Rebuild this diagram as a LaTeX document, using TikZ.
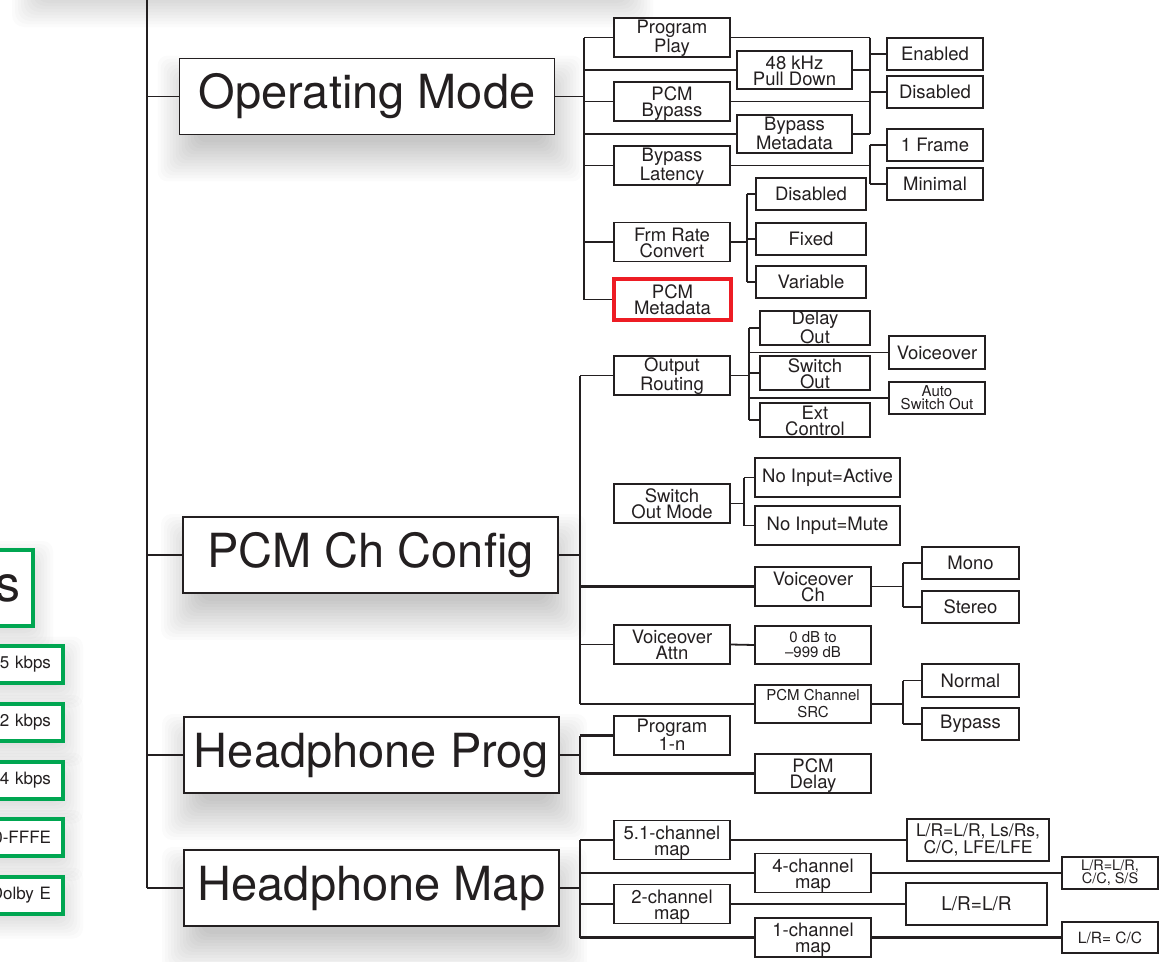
\documentclass[tikz,border=0pt]{standalone}
\usepackage{fontspec}
\setmainfont{TeX Gyre Heros}
\usetikzlibrary{backgrounds}
\definecolor{ink}{RGB}{35,31,32}
\definecolor{dgreen}{RGB}{0,166,81}
\definecolor{dred}{RGB}{237,28,36}

% soft drop shadow under a node: [layers]{node}{drop}
\newcommand{\dropshade}[3][-15,-12,...,24]{%
  \foreach \s in {#1}
    \fill[black, opacity=0.014, rounded corners=10pt]
      ([shift={(3-\s,#3-\s)}]#2.north west) rectangle ([shift={(3+\s,#3+\s)}]#2.south east);}

\tikzset{
  box/.style={draw=ink, line width=1.8pt, fill=white, text=ink, inner sep=0pt, align=center, font=\fontsize{18.5}{16}\selectfont},
  twoline/.style={text height=32pt, text depth=2pt},
  mainbox/.style={box, minimum width=375, minimum height=76, font=\fontsize{47}{50}\selectfont},
  optbox/.style={box, minimum width=116, minimum height=39},
  valbox/.style={box, minimum width=96, minimum height=32},
  wire/.style={draw=ink, line width=1.8pt},
  heavy/.style={draw=ink, line width=2.8pt},
  gbox/.style={draw=dgreen, line width=4pt, fill=white, text=ink, anchor=east, align=right, text width=90, inner xsep=12, inner ysep=0pt, minimum height=37, font=\fontsize{17}{17}\selectfont},
}

\begin{document}
\begin{tikzpicture}[x=1pt, y=-1pt]
\clip (0,0) rectangle (1159,961);

% green boxes, left
\node[gbox, minimum height=76, font=\fontsize{50}{50}\selectfont] (rate) at (35,588) {s};
\node[gbox] (k1) at (65,664) {5 kbps};
\node[gbox] (k2) at (65,722.5) {2 kbps};
\node[gbox] (k3) at (65,780) {4 kbps};
\node[gbox] (k4) at (65,837.5) {0-FFFE};
\node[gbox] (k5) at (65,895) {Dolby E};

% main menus
\node[mainbox] (om) at (367,96.5) {Operating Mode};
\node[mainbox] (pcc) at (370.5,555) {PCM Ch Config};
\node[mainbox] (hp) at (371.5,755) {Headphone Prog};
\node[mainbox] (hm) at (371.5,888) {Headphone Map};

% Operating Mode
\node[optbox, twoline] (pplay) at (672,37.5) {Program\\Play};
\node[optbox, twoline, minimum width=115, minimum height=38] (khz) at (794.5,70) {48 kHz\\Pull Down};
\node[optbox, twoline] (pbyp) at (672,101.5) {PCM\\Bypass};
\node[optbox, twoline, minimum width=115, minimum height=38] (bmeta) at (794.5,134) {Bypass\\Metadata};
\node[optbox, twoline] (blat) at (672,165.5) {Bypass\\Latency};
\node[optbox, twoline] (frc) at (672,242) {Frm Rate\\Convert};
\node[optbox, twoline, draw=dred, line width=3.5pt, minimum width=117, minimum height=41] (pmeta) at (672.5,299.5) {PCM\\Metadata};

\node[valbox] (en) at (935,54) {Enabled};
\node[valbox] (dis) at (935,92) {Disabled};
\node[valbox] (fr1) at (935,145) {1 Frame};
\node[valbox] (minl) at (935,184) {Minimal};
\node[valbox, minimum width=110] (dis2) at (811,194) {Disabled};
\node[valbox, minimum width=110] (fix) at (811,239) {Fixed};
\node[valbox, minimum width=110] (var) at (811,282) {Variable};

% PCM Ch Config
\node[optbox, twoline] (outr) at (672,375.5) {Output\\Routing};
\node[valbox, twoline, minimum width=110] (dout) at (815,328) {Delay\\Out};
\node[valbox, twoline, minimum width=110] (sout) at (815,373) {Switch\\Out};
\node[valbox, twoline, minimum width=110] (ext) at (815,420) {Ext\\Control};
\node[valbox, minimum height=33] (vo) at (937,352.5) {Voiceover};
\node[valbox, font=\fontsize{15}{13}\selectfont] (auto) at (937,398) {Auto\\Switch Out};
\node[optbox, twoline] (swm) at (672,503.5) {Switch\\Out Mode};
\node[optbox, minimum width=145] (nia) at (827.5,477.5) {No Input=Active};
\node[optbox, minimum width=145] (nim) at (827.5,525.5) {No Input=Mute};
\node[optbox, twoline] (voch) at (813,586.5) {Voiceover\\Ch};
\node[valbox, minimum width=97] (mono) at (970.5,563) {Mono};
\node[valbox, minimum width=97] (ster) at (970.5,607) {Stereo};
\node[optbox, twoline] (voat) at (672,644.5) {Voiceover\\Attn};
\node[optbox, minimum height=38, font=\fontsize{15}{15}\selectfont] (zero) at (813,645) {0 dB to\\–999 dB};
\node[optbox, minimum height=38, font=\fontsize{15}{17}\selectfont] (pcsrc) at (813,704) {PCM Channel\\SRC};
\node[valbox, minimum width=97, minimum height=33] (norm) at (970.5,680.5) {Normal};
\node[valbox, minimum width=97] (byp) at (970.5,724) {Bypass};

% Headphone Prog
\node[optbox, twoline] (p1n) at (672,735.5) {Program\\1-n};
\node[optbox, twoline] (pdel) at (813,773.5) {PCM\\Delay};

% Headphone Map
\node[optbox, twoline] (c51) at (672,840) {5.1-channel\\map};
\node[optbox, minimum width=142, minimum height=42, font=\fontsize{17.5}{14}\selectfont] (lr51) at (978,840) {L/R=L/R, Ls/Rs,\\C/C, LFE/LFE};
\node[optbox, twoline] (c4) at (813,873) {4-channel\\map};
\node[valbox, font=\fontsize{14.5}{13}\selectfont] (lr4) at (1110,873) {L/R=L/R,\\C/C, S/S};
\node[optbox, twoline] (c2) at (672,904) {2-channel\\map};
\node[optbox, minimum width=141, minimum height=42, font=\fontsize{19}{19}\selectfont] (lr2) at (976.5,904) {L/R=L/R};
\node[optbox, twoline] (c1) at (813,937.5) {1-channel\\map};
\node[valbox, minimum height=31, font=\fontsize{15.5}{15.5}\selectfont] (lr1) at (1110,937.5) {L/R= C/C};

% trunk
\coordinate (trunk) at (147,0);
\draw[wire] (trunk) -- (trunk |- hm.west);
\draw[heavy] (trunk) -- ++(0,33);
\foreach \m in {om,pcc,hp,hm}
  \draw[wire] (trunk |- \m.west) -- (\m.west);

% Operating Mode wiring
\coordinate (ombus) at (584,0);
\draw[wire] (om.east) -- (om.east -| ombus);
\draw[wire] (ombus |- pplay.west) -- (ombus |- pmeta.west);
\foreach \n in {pplay,khz,pbyp,blat,frc,pmeta}
  \draw[wire] (ombus |- \n.west) -- (\n.west);
\draw[heavy] (ombus |- bmeta.west) -- (bmeta.west);

\coordinate (enbus) at (870,0);
\foreach \n in {pplay,khz,pbyp,bmeta,blat}
  \draw[wire] (\n.east) -- (\n.east -| enbus);
\draw[wire] (enbus |- pplay.east) -- (enbus |- bmeta.east);
\draw[wire] (enbus |- fr1.west) -- (enbus |- minl.west);
\foreach \n in {en,dis,fr1,minl}
  \draw[wire] (enbus |- \n.west) -- (\n.west);

\coordinate (frbus) at (747,0);
\draw[wire] (frc.east) -- (frc.east -| frbus);
\draw[wire] (frbus |- dis2.west) -- (frbus |- var.west);
\foreach \n in {dis2,fix,var}
  \draw[wire] (frbus |- \n.west) -- (\n.west);

% PCM Ch Config wiring
\coordinate (pcbus) at (580,0);
\draw[wire] (pcc.east) -- (pcc.east -| pcbus);
\draw[wire] (pcbus |- outr.west) -- (pcbus |- pcsrc.west);
\foreach \n in {outr,voat,pcsrc}
  \draw[wire] (pcbus |- \n.west) -- (\n.west);
\draw[heavy] (pcbus |- voch.west) -- (voch.west);

\coordinate (orbus) at (749,0);
\draw[wire] (outr.east) -- (outr.east -| orbus);
\draw[wire] (orbus |- dout.west) -- (orbus |- ext.west);
\foreach \n in {dout,sout,ext,vo,auto}
  \draw[wire] (orbus |- \n.west) -- (\n.west);

\coordinate (swbus) at (744,0);
\draw[wire] (swm.east) -- (swm.east -| swbus);
\draw[wire] (swbus |- nia.west) -- (swbus |- nim.west);
\foreach \n in {nia,nim}
  \draw[wire] (swbus |- \n.west) -- (\n.west);

\coordinate (chbus) at (903,0);
\draw[wire] (voch.east) -- (voch.east -| chbus);
\draw[wire] (chbus |- mono.west) -- (chbus |- ster.west);
\draw[wire] (pcsrc.east) -- (pcsrc.east -| chbus);
\draw[wire] (chbus |- norm.west) -- (chbus |- byp.west);
\foreach \n in {mono,ster,norm,byp}
  \draw[wire] (chbus |- \n.west) -- (\n.west);
\draw[wire] (voat.east) -- (zero.west);

% Headphone Prog wiring
\draw[wire] (hp.east) -- (hp.east -| pcbus);
\draw[wire] (pcbus |- p1n.west) -- (pcbus |- pdel.west);
\draw[heavy] (pcbus |- p1n.west) -- (p1n.west);
\draw[heavy] (pcbus |- pdel.west) -- (pdel.west);

% Headphone Map wiring
\draw[wire] (hm.east) -- (hm.east -| pcbus);
\draw[wire] (pcbus |- c51.west) -- (pcbus |- c1.west);
\draw[wire] (pcbus |- c51.west) -- (c51.west);
\foreach \n in {c4,c2,c1}
  \draw[heavy] (pcbus |- \n.west) -- (\n.west);
\draw[wire] (c51.east) -- (lr51.west);
\draw[heavy] (c4.east) -- (lr4.west);
\draw[wire] (c2.east) -- (lr2.west);
\draw[heavy] (c1.east) -- (lr1.west);

% shadows
\begin{scope}[on background layer]
\fill[white] (0,0) rectangle (1159,961);
\foreach \s in {-12,-9,...,33}
  \fill[black, opacity=0.016, rounded corners=12pt] (45-\s,-100) rectangle (620+\s,-6+\s);
\foreach \m in {om,pcc,hp,hm}
  \dropshade{\m}{22};
\foreach \k in {rate,k1,k2,k3,k4,k5}
  \dropshade[-6,-3,...,15]{\k}{8};
\end{scope}
\end{tikzpicture}
\end{document}
